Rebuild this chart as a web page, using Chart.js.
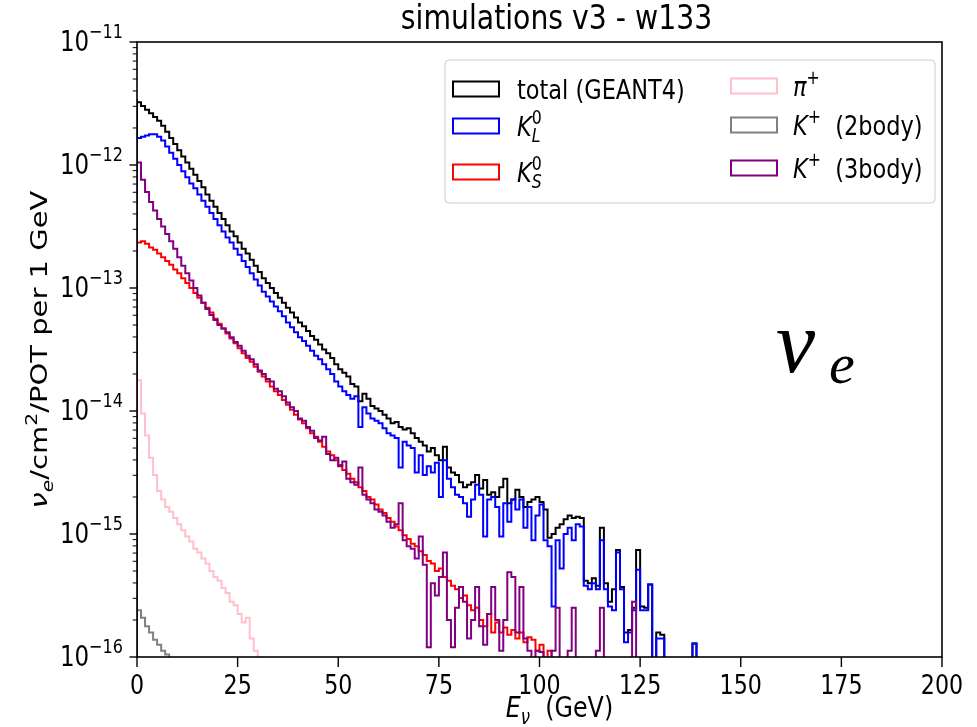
<!DOCTYPE html>
<html>
<head>
<meta charset="utf-8">
<script src="https://cdn.jsdelivr.net/npm/chart.js@4.4.1/dist/chart.umd.min.js"></script>
<style>
  html, body { margin: 0; padding: 0; background: #fff; }
  #wrap { width: 977px; height: 727px; }
</style>
</head>
<body>
<div id="wrap"><canvas id="flux" width="977" height="727"></canvas></div>
<script>
// nu_e flux per 1 GeV bin (log10 of cm^-2 / POT), bin i covers [i, i+1) GeV; null = empty bin
const binWidth = 1;

const totalLog = [
  -11.46, -11.49, -11.52, -11.55, -11.58, -11.61, -11.64, -11.68, -11.73, -11.78,
  -11.83, -11.88, -11.93, -11.98, -12.03, -12.08, -12.13, -12.18, -12.24, -12.29,
  -12.34, -12.39, -12.44, -12.49, -12.54, -12.58, -12.63, -12.68, -12.72, -12.77,
  -12.82, -12.87, -12.92, -12.96, -13.00, -13.04, -13.08, -13.12, -13.16, -13.20,
  -13.24, -13.28, -13.31, -13.35, -13.39, -13.42, -13.46, -13.50, -13.53, -13.57,
  -13.62, -13.66, -13.69, -13.72, -13.78, -13.80, -13.92, -13.86, -13.90, -13.96,
  -13.98, -14.00, -14.03, -14.06, -14.10, -14.09, -14.13, -14.15, -14.14, -14.18,
  -14.22, -14.25, -14.28, -14.33, -14.30, -14.36, -14.40, -14.29, -14.46, -14.50,
  -14.52, -14.58, -14.62, -14.60, -14.58, -14.52, -14.63, -14.56, -14.68, -14.66,
  -14.70, -14.62, -14.55, -14.75, -14.72, -14.64, -14.70, -14.78, -14.74, -14.72,
  -14.70, -14.74, -14.80, -15.03, -15.00, -14.95, -14.92, -14.88, -14.85, -14.87,
  -14.86, -14.87, -15.38, -15.40, -15.36, -15.42, -14.95, -15.40, -15.55, -15.45,
  -15.13, -15.43, -15.80, -15.78, -15.60, -15.13, -15.59, -15.60, -15.41, null,
  -15.80, -15.82, null, null, null, null, null, null, null, -15.89
];

const kL0Log = [
  -11.80, -11.78, -11.77, -11.76, -11.75, -11.75, -11.77, -11.80, -11.85, -11.90,
  -11.95, -12.00, -12.05, -12.10, -12.15, -12.19, -12.24, -12.29, -12.34, -12.39,
  -12.44, -12.49, -12.54, -12.59, -12.63, -12.68, -12.73, -12.78, -12.83, -12.88,
  -12.93, -12.98, -13.03, -13.07, -13.11, -13.15, -13.19, -13.23, -13.28, -13.32,
  -13.36, -13.40, -13.43, -13.47, -13.51, -13.55, -13.58, -13.62, -13.66, -13.70,
  -13.76, -13.80, -13.84, -13.87, -13.90, -13.88, -14.13, -13.97, -14.02, -14.06,
  -14.08, -14.10, -14.14, -14.18, -14.20, -14.22, -14.46, -14.25, -14.28, -14.30,
  -14.50, -14.36, -14.52, -14.45, -14.50, -14.42, -14.70, -14.40, -14.55, -14.62,
  -14.68, -14.70, -14.75, -14.86, -14.72, -14.60, -14.68, -15.02, -14.72, -14.70,
  -14.78, -15.02, -14.75, -14.90, -14.72, -14.80, -14.72, -14.95, -14.78, -15.05,
  -14.85, -14.76, -15.05, -15.10, -15.59, -15.05, -15.28, -15.00, -14.95, -15.05,
  -14.92, -14.94, -15.42, -15.45, -15.40, -15.45, -15.05, -15.45, -15.59, -15.62,
  -15.15, -15.45, -15.88, -15.80, -15.62, -15.29, -15.62, -15.62, -15.41, null,
  -15.85, -15.85, null, null, null, null, null, null, null, -15.89
];

const kS0Log = [
  -12.68, -12.63, -12.62, -12.64, -12.67, -12.69, -12.72, -12.75, -12.78, -12.81,
  -12.85, -12.88, -12.92, -12.96, -13.00, -13.04, -13.08, -13.12, -13.16, -13.20,
  -13.25, -13.29, -13.33, -13.37, -13.41, -13.45, -13.49, -13.53, -13.57, -13.60,
  -13.64, -13.68, -13.72, -13.76, -13.80, -13.84, -13.87, -13.91, -13.95, -13.99,
  -14.03, -14.07, -14.10, -14.14, -14.18, -14.21, -14.25, -14.29, -14.33, -14.36,
  -14.40, -14.44, -14.48, -14.51, -14.55, -14.58, -14.62, -14.65, -14.70, -14.72,
  -14.76, -14.80, -14.83, -14.87, -14.90, -14.94, -14.97, -15.01, -15.04, -15.08,
  -15.10, -15.14, -15.17, -15.22, -15.24, -15.30, -15.28, -15.35, -15.38, -15.42,
  -15.45, -15.52, -15.50, -15.58, -15.62, -15.60, -15.70, -15.75, -15.65, -15.80,
  -15.72, -15.80, -15.76, -15.82, -15.78, -15.85, -15.80, -15.88, -15.84, -15.86,
  -15.95, -15.90, null, -15.95
];

const piPlusLog = [
  -13.45, -13.75, -14.02, -14.20, -14.38, -14.52, -14.65, -14.72, -14.78, -14.82,
  -14.87, -14.92, -14.97, -15.02, -15.06, -15.12, -15.15, -15.20, -15.24, -15.30,
  -15.35, -15.38, -15.44, -15.48, -15.55, -15.58, -15.65, -15.72, -15.68, -15.85,
  -15.95
];

const kPlus2Log = [
  -15.56, -15.62, -15.68, -15.75, -15.80, -15.86, -15.90, -15.95, -15.98
];

const kPlus3Log = [
  -11.82, -11.98, -12.12, -12.22, -12.30, -12.37, -12.44, -12.50, -12.56, -12.62,
  -12.68, -12.75, -12.82, -12.88, -12.94, -13.00, -13.06, -13.12, -13.17, -13.22,
  -13.26, -13.30, -13.33, -13.36, -13.40, -13.44, -13.47, -13.51, -13.55, -13.58,
  -13.62, -13.67, -13.70, -13.74, -13.76, -13.82, -13.84, -13.88, -13.93, -13.97,
  -14.00, -14.06, -14.08, -14.13, -14.16, -14.22, -14.24, -14.21, -14.35, -14.40,
  -14.38, -14.45, -14.41, -14.55, -14.58, -14.60, -14.46, -14.68, -14.72, -14.75,
  -14.80, -14.82, -14.85, -14.90, -14.95, -14.92, -14.75, -15.05, -15.10, -15.12,
  -15.20, -15.02, -15.25, -15.92, -15.40, -15.50, -15.35, -15.15, -15.70, -15.92,
  -15.60, -15.43, -15.55, -15.85, -15.70, -15.43, -15.75, -15.90, -15.65, -15.43,
  -15.70, -15.95, -15.70, -15.31, -15.35, -15.80, -15.43, -15.85, -15.95, null,
  -15.95, -15.96, null, null, -15.95, -15.60, null, null, -15.95, -15.60,
  null, null, null, null, null, -15.95, -15.60, null, null, null,
  null, null, null, null, -15.55
];

const xTicks = [0, 25, 50, 75, 100, 125, 150, 175, 200];
const yDecades = [-16, -15, -14, -13, -12, -11];
const minorSteps = [2, 3, 4, 5, 6, 7, 8, 9];

const titleText = 'simulations v3 - w133';

// mathtext-like label pieces: s = size factor, dy = baseline shift (em), it = italic, stack = share x with next
const series = [
  { log: totalLog,  color: '#000000', label: [{ t: 'total (GEANT4)' }] },
  { log: kL0Log,    color: '#0000ff', label: [{ t: 'K', it: true }, { t: '0', s: 0.7, dy: -0.42, stack: true }, { t: 'L', s: 0.7, dy: 0.24, it: true }] },
  { log: kS0Log,    color: '#ff0000', label: [{ t: 'K', it: true }, { t: '0', s: 0.7, dy: -0.42, stack: true }, { t: 'S', s: 0.7, dy: 0.24, it: true }] },
  { log: piPlusLog, color: '#ffc0cb', label: [{ t: 'π', it: true }, { t: '+', s: 0.7, dy: -0.42 }] },
  { log: kPlus2Log, color: '#808080', label: [{ t: 'K', it: true }, { t: '+', s: 0.7, dy: -0.42 }, { t: '  (2body)' }] },
  { log: kPlus3Log, color: '#800080', label: [{ t: 'K', it: true }, { t: '+', s: 0.7, dy: -0.42 }, { t: '  (3body)' }] }
];

const xLabel = [{ t: 'E', it: true }, { t: 'ν', s: 0.7, dy: 0.24, it: true }, { t: '  (GeV)' }];
const yLabel = [{ t: 'ν', it: true }, { t: 'e', s: 0.7, dy: 0.24, it: true }, { t: '/cm' }, { t: '2', s: 0.7, dy: -0.42 }, { t: '/POT per 1 GeV' }];

// empty bins are sent one decade under the axis so the step drops out of view
const FLOOR = 1e-17;

function stepPoints(logs) {
  const pts = [{ x: 0, y: FLOOR }];
  logs.forEach((v, i) => pts.push({ x: i * binWidth, y: v === null ? FLOOR : Math.pow(10, v) }));
  pts.push({ x: logs.length * binWidth, y: FLOOR });
  return pts;
}

// text look
const F = 27;        // tick label size
const FL = 28.5;     // legend size
const SQ = 0.82;     // horizontal squeeze of the glyphs
const FAMILY = '"DejaVu Sans"';

function fontOf(size, italic, family) {
  return (italic ? 'italic ' : '') + size.toFixed(1) + 'px ' + (family || FAMILY);
}

function drawMath(ctx, runs, x, y, opt) {
  const size = opt.size || F;
  const sx = opt.sx !== undefined ? opt.sx : SQ;
  const sy = opt.sy !== undefined ? opt.sy : 1;
  ctx.save();
  ctx.translate(x, y);
  if (opt.rot) ctx.rotate(opt.rot);
  ctx.scale(sx, sy);
  let total = 0, stackW = 0;
  const pos = [];
  runs.forEach(r => {
    ctx.font = fontOf(size * (r.s || 1), r.it, opt.family);
    const w = ctx.measureText(r.t).width;
    pos.push(total);
    if (r.stack) stackW = Math.max(stackW, w);
    else { total += Math.max(w, stackW); stackW = 0; }
  });
  const x0 = opt.align === 'right' ? -total : opt.align === 'center' ? -total / 2 : 0;
  ctx.fillStyle = opt.color || '#000';
  ctx.textBaseline = 'alphabetic';
  ctx.textAlign = 'left';
  runs.forEach((r, i) => {
    ctx.font = fontOf(size * (r.s || 1), r.it, opt.family);
    ctx.fillText(r.t, x0 + pos[i], (r.dy || 0) * size);
  });
  ctx.restore();
}

const axesDecor = {
  id: 'axesDecor',
  afterDatasetsDraw(chart) {
    const ctx = chart.ctx;
    const a = chart.chartArea;
    const xs = chart.scales.x, ys = chart.scales.y;
    ctx.save();

    // spines
    ctx.strokeStyle = '#000';
    ctx.lineWidth = 1.6;
    ctx.strokeRect(a.left, a.top, a.right - a.left, a.bottom - a.top);

    // x ticks and labels
    ctx.lineWidth = 1.4;
    xTicks.forEach(v => {
      const px = xs.getPixelForValue(v);
      ctx.beginPath();
      ctx.moveTo(px, a.bottom);
      ctx.lineTo(px, a.bottom + 10);
      ctx.stroke();
      drawMath(ctx, [{ t: String(v) }], px, a.bottom + 37, { align: 'center' });
    });

    // y decades, minor ticks and labels
    yDecades.forEach(d => {
      const py = ys.getPixelForValue(Math.pow(10, d));
      ctx.lineWidth = 1.4;
      ctx.beginPath();
      ctx.moveTo(a.left, py);
      ctx.lineTo(a.left - 7.5, py);
      ctx.stroke();
      const exp = '−' + String(-d);
      drawMath(ctx, [{ t: '10' }, { t: exp, s: 0.7, dy: -0.45 }], a.left - 14, py + 9, { align: 'right', size: 28 });
      if (d < yDecades[yDecades.length - 1]) {
        ctx.lineWidth = 1;
        minorSteps.forEach(m => {
          const pm = ys.getPixelForValue(m * Math.pow(10, d));
          ctx.beginPath();
          ctx.moveTo(a.left, pm);
          ctx.lineTo(a.left - 4.3, pm);
          ctx.stroke();
        });
      }
    });

    // axis titles
    drawMath(ctx, xLabel, (a.left + a.right) / 2 + 20, 717, { align: 'center', size: 29 });
    drawMath(ctx, yLabel, 47, (a.top + a.bottom) / 2, { align: 'center', rot: -Math.PI / 2, sx: 1, sy: SQ, size: 29 });

    // title
    drawMath(ctx, [{ t: titleText }], (a.left + a.right) / 2 + 17, 29, { align: 'center', size: 34.5 });

    // legend
    const box = { x: 445, y: 60, w: 490, h: 143 };
    ctx.beginPath();
    ctx.roundRect(box.x, box.y, box.w, box.h, 4);
    ctx.fillStyle = 'rgba(255,255,255,0.8)';
    ctx.fill();
    ctx.strokeStyle = '#cccccc';
    ctx.lineWidth = 1;
    ctx.stroke();
    const cols = [{ px: 453, tx: 517, rows: [89, 126, 172] }, { px: 731, tx: 793, rows: [86, 125, 168] }];
    series.forEach((s, i) => {
      const col = cols[Math.floor(i / 3)];
      const cy = col.rows[i % 3];
      ctx.fillStyle = '#fff';
      ctx.fillRect(col.px, cy - 7.5, 46, 15);
      ctx.strokeStyle = s.color;
      ctx.lineWidth = 2;
      ctx.strokeRect(col.px, cy - 7.5, 46, 15);
      drawMath(ctx, s.label, col.tx, cy + 9.5, { size: FL * 0.96 });
    });

    // flavour tag
    drawMath(ctx, [{ t: 'ν', it: true }], 776, 372, { size: 88, sx: 1, family: '"Liberation Serif"' });
    drawMath(ctx, [{ t: 'e', it: true }], 829, 383, { size: 58, sx: 1, family: '"Liberation Serif"' });

    ctx.restore();
  }
};

new Chart(document.getElementById('flux'), {
  type: 'line',
  data: {
    datasets: series.map((s, i) => ({
      data: stepPoints(s.log),
      borderColor: s.color,
      borderWidth: 2,
      stepped: 'after',
      pointRadius: 0,
      fill: false,
      order: series.length - i
    }))
  },
  options: {
    responsive: false,
    animation: false,
    devicePixelRatio: 1,
    parsing: false,
    layout: { padding: { left: 137, top: 42, right: 35, bottom: 70 } },
    plugins: { legend: { display: false }, tooltip: { enabled: false } },
    scales: {
      x: { type: 'linear', min: 0, max: 200, display: false },
      y: { type: 'logarithmic', min: 1e-16, max: 1e-11, display: false }
    }
  },
  plugins: [axesDecor]
});
</script>
</body>
</html>
